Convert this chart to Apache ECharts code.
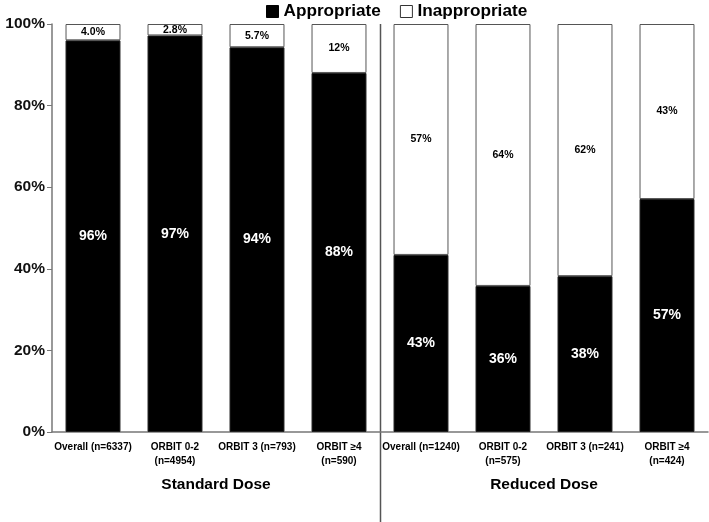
<!DOCTYPE html>
<html>
<head>
<meta charset="utf-8">
<script src="https://cdn.jsdelivr.net/npm/echarts@6/dist/echarts.min.js"></script>
<style>html,body{margin:0;padding:0;background:#fff;}#c{width:709px;height:522px;}</style>
</head>
<body>
<div id="c"></div>
<script>
const categories = ['Overall (n=6337)', 'ORBIT 0-2\n(n=4954)', 'ORBIT 3 (n=793)', 'ORBIT ≥4\n(n=590)',
                    'Overall (n=1240)', 'ORBIT 0-2\n(n=575)', 'ORBIT 3 (n=241)', 'ORBIT ≥4\n(n=424)'];
const groups = ['Standard Dose', 'Reduced Dose'];
const appropriate = [96.0, 97.2, 94.3, 88.0, 43.4, 35.8, 38.2, 57.1];
const inappropriate = [4.0, 2.8, 5.7, 12.0, 56.6, 64.2, 61.8, 42.9];
const appropriateLabels = ['96%', '97%', '94%', '88%', '43%', '36%', '38%', '57%'];
const inappropriateLabels = ['4.0%', '2.8%', '5.7%', '12%', '57%', '64%', '62%', '43%'];
const yTicks = [0, 20, 40, 60, 80, 100];

const FONT = '"Liberation Sans", Arial, sans-serif';
const chart = echarts.init(document.getElementById('c'), null, {renderer: 'canvas'});
const option = {
  animation: false,
  backgroundColor: '#fff',
  textStyle: {fontFamily: FONT},
  legend: {
    top: -2, left: 261,
    itemWidth: 12, itemHeight: 12, itemGap: 19,
    textStyle: {fontFamily: FONT, fontSize: 17.2, fontWeight: 'bold', color: '#000'},
    data: [
      {name: 'Appropriate', icon: 'rect', itemStyle: {color: '#000', borderColor: '#000', borderWidth: 1}},
      {name: 'Inappropriate', icon: 'rect', itemStyle: {color: '#fff', borderColor: '#333', borderWidth: 1}}
    ]
  },
  grid: {left: 52, right: 1, top: 24, bottom: 90, containLabel: false},
  xAxis: [{
    type: 'category', data: categories, position: 'bottom',
    axisLine: {show: true, lineStyle: {color: '#777', width: 1.5}},
    axisTick: {show: false},
    axisLabel: {interval: 0, fontFamily: FONT, fontSize: 10, fontWeight: 'bold', color: '#000', margin: 8, lineHeight: 14}
  }, {
    type: 'category', data: groups, position: 'bottom', offset: 37,
    axisLine: {show: false}, axisTick: {show: false},
    axisLabel: {interval: 0, fontFamily: FONT, fontSize: 15.5, fontWeight: 'bold', color: '#000'}
  }],
  yAxis: {
    type: 'value', min: 0, max: 100, interval: 20,
    axisLine: {show: true, lineStyle: {color: '#777', width: 1.5}},
    axisTick: {show: true, length: 5, lineStyle: {color: '#777'}},
    splitLine: {show: false},
    axisLabel: {fontFamily: FONT, fontSize: 15.5, fontWeight: 'bold', color: '#111', margin: 7,
      formatter: v => yTicks.includes(v) ? v + '%' : ''}
  },
  series: [{
    name: 'Appropriate', type: 'bar', stack: 'a', xAxisIndex: 0,
    barCategoryGap: '33%',
    data: appropriate,
    itemStyle: {color: '#000', borderColor: '#222', borderWidth: 1},
    label: {show: true, position: 'inside', color: '#fff', fontFamily: FONT, fontSize: 14, fontWeight: 'bold',
      formatter: p => appropriateLabels[p.dataIndex]}
  }, {
    name: 'Inappropriate', type: 'bar', stack: 'a', xAxisIndex: 0,
    data: inappropriate,
    itemStyle: {color: '#fff', borderColor: '#555', borderWidth: 1},
    label: {show: true, position: 'inside', color: '#000', fontFamily: FONT, fontSize: 10.5, fontWeight: 'bold',
      formatter: p => inappropriateLabels[p.dataIndex]}
  }]
};
chart.setOption(option);
// divider between the two dose groups
const px3 = chart.convertToPixel({xAxisIndex: 0}, 3);
const px4 = chart.convertToPixel({xAxisIndex: 0}, 4);
const yTop = chart.convertToPixel({yAxisIndex: 0}, 100);
const xd = Math.round((px3 + px4) / 2) + 0.5;
chart.setOption({
  graphic: [{
    type: 'line', shape: {x1: xd, y1: yTop, x2: xd, y2: 522},
    style: {stroke: '#555', lineWidth: 1.5}, silent: true
  }]
});
</script>
</body>
</html>
